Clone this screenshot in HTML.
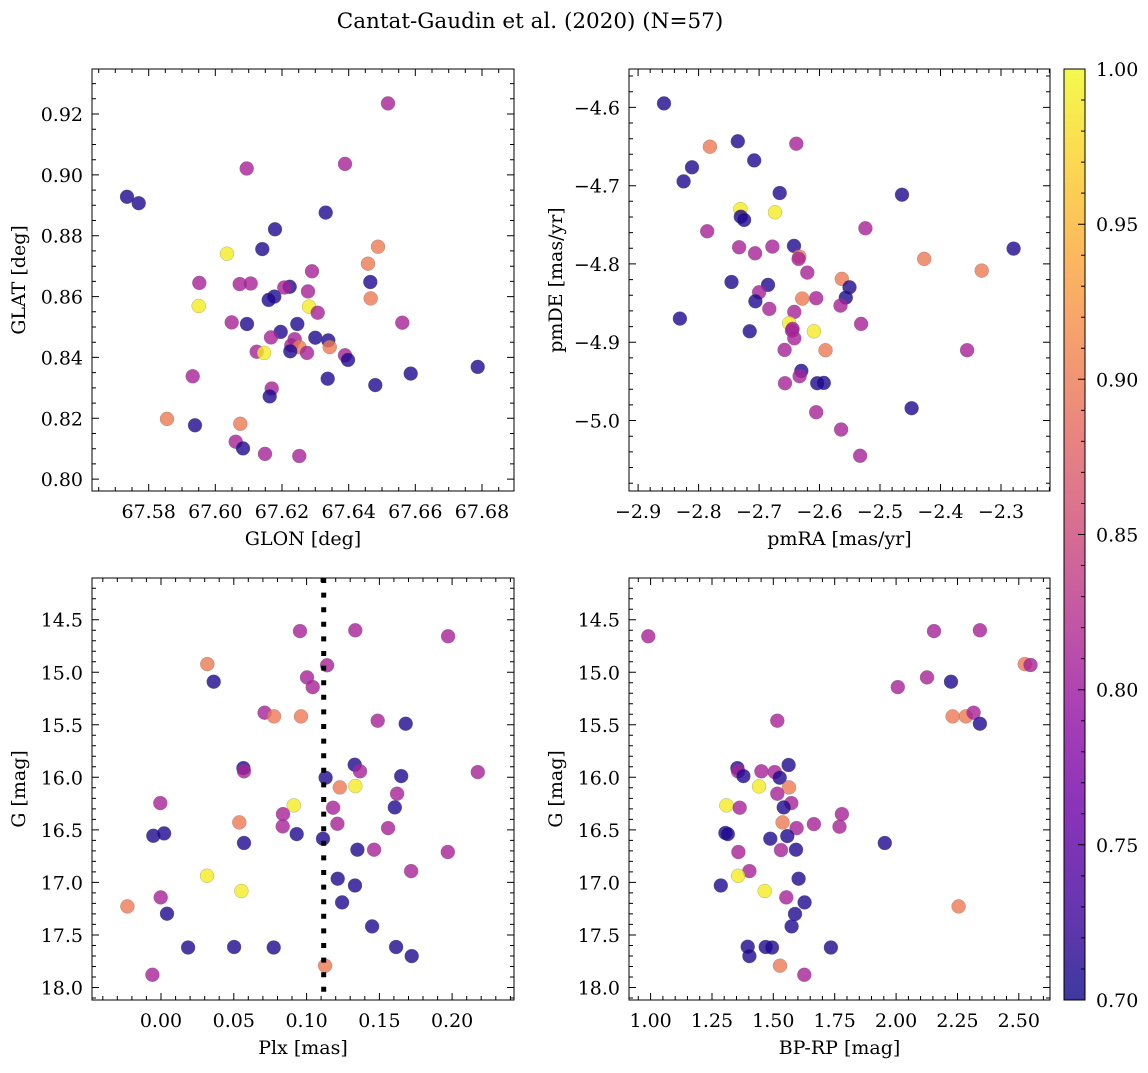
<!DOCTYPE html>
<html><head><meta charset="utf-8"><style>
html,body{margin:0;padding:0;background:#fff;}
svg text{font-family:"DejaVu Serif","Liberation Serif",serif;fill:#000;}
</style></head><body>
<svg id="fig" xmlns="http://www.w3.org/2000/svg" width="1148" height="1068" viewBox="0 0 1148 1068">
<rect width="1148" height="1068" fill="#fff"/>
<text x="530" y="28" font-size="21.5" text-anchor="middle">Cantat-Gaudin et al. (2020) (N=57)</text>
</svg>
<script>
// ---- data ----
const tlGlon=[67.6518,67.6389,67.6094,67.5735,67.577,67.6331,67.6179,67.6488,67.6141,67.6035,67.6458,67.629,67.5952,67.6073,67.6106,67.6223,67.6207,67.6278,67.6465,67.6177,67.616,67.6466,67.595,67.6281,67.6307,67.6049,67.6095,67.6561,67.6246,67.6196,67.6167,67.63,67.6339,67.6238,67.6228,67.6252,67.6343,67.6124,67.6146,67.6225,67.6275,67.6389,67.6398,67.6787,67.6586,67.5932,67.6337,67.648,67.6169,67.6163,67.5855,67.5939,67.6075,67.6061,67.6083,67.6149,67.6252];
const tlGlat=[0.9235,0.9036,0.9021,0.8928,0.8907,0.8876,0.8821,0.8764,0.8756,0.8741,0.8708,0.8683,0.8645,0.8641,0.8643,0.8632,0.8630,0.8617,0.8648,0.8600,0.8589,0.8594,0.8569,0.8567,0.8547,0.8515,0.8510,0.8514,0.8510,0.8484,0.8466,0.8465,0.8456,0.8460,0.8440,0.8434,0.8434,0.8419,0.8415,0.8420,0.8415,0.8407,0.8392,0.8369,0.8347,0.8338,0.8330,0.8309,0.8298,0.8272,0.8198,0.8177,0.8182,0.8123,0.8101,0.8083,0.8076];
const tlProb=[0.81,0.81,0.81,0.71,0.71,0.71,0.71,0.9,0.71,0.99,0.9,0.81,0.81,0.81,0.81,0.71,0.81,0.81,0.71,0.71,0.71,0.9,0.99,0.99,0.81,0.81,0.71,0.81,0.71,0.71,0.81,0.71,0.71,0.81,0.81,0.9,0.9,0.81,0.99,0.71,0.81,0.81,0.71,0.71,0.71,0.81,0.71,0.71,0.81,0.71,0.9,0.71,0.9,0.81,0.71,0.81,0.81];

const trPmra=[-2.8571,-2.7813,-2.7352,-2.6385,-2.708,-2.8109,-2.8247,-2.6659,-2.4637,-2.7308,-2.6736,-2.7302,-2.7247,-2.7857,-2.5242,-2.733,-2.678,-2.7066,-2.6423,-2.6335,-2.6346,-2.2791,-2.4269,-2.6203,-2.3319,-2.5632,-2.7456,-2.6852,-2.5505,-2.7,-2.706,-2.6286,-2.6055,-2.5566,-2.5654,-2.683,-2.6417,-2.8308,-2.65,-2.6456,-2.6093,-2.7154,-2.5313,-2.6417,-2.5901,-2.356,-2.6577,-2.6302,-2.633,-2.6571,-2.6038,-2.5929,-2.4478,-2.6055,-2.5643,-2.533,-2.6445];
const trPmde=[-4.5949,-4.6502,-4.6434,-4.6464,-4.6677,-4.6766,-4.6945,-4.7094,-4.7115,-4.7298,-4.734,-4.7396,-4.7438,-4.7583,-4.7545,-4.7787,-4.7779,-4.7864,-4.7770,-4.7906,-4.7936,-4.7804,-4.7936,-4.8111,-4.8085,-4.8191,-4.823,-4.8268,-4.8298,-4.8362,-4.8477,-4.8443,-4.8438,-4.843,-4.8532,-4.8574,-4.8613,-4.8698,-4.8757,-4.8851,-4.886,-4.886,-4.8766,-4.8949,-4.9102,-4.9102,-4.9098,-4.9366,-4.9434,-4.9523,-4.9523,-4.9519,-4.9843,-4.9894,-5.0115,-5.0451,-4.883];
const trProb=[0.71,0.9,0.71,0.81,0.71,0.71,0.71,0.71,0.71,0.99,0.99,0.71,0.71,0.81,0.81,0.81,0.81,0.81,0.71,0.9,0.81,0.71,0.9,0.81,0.9,0.9,0.71,0.71,0.71,0.81,0.71,0.9,0.81,0.71,0.81,0.81,0.81,0.71,0.99,0.81,0.99,0.71,0.81,0.81,0.9,0.81,0.81,0.71,0.81,0.81,0.71,0.71,0.71,0.81,0.81,0.81,0.81];

const blPlx=[0.0955,0.1335,0.1972,0.0318,0.1141,0.0362,0.1003,0.1042,0.0712,0.0776,0.0962,0.1489,0.1681,0.0566,0.0570,0.1331,0.1367,0.2176,0.1131,0.1650,0.1228,0.1335,-0.0005,0.1622,0.0912,0.1182,0.1606,0.0838,0.0538,0.1212,0.0836,0.1560,-0.0053,0.0021,0.0932,0.1113,0.0570,0.1349,0.1464,0.1970,0.1718,0.0316,0.1214,0.1333,0.0552,-0.0002,-0.0231,0.0041,0.1244,0.1450,0.0186,0.0502,0.0774,0.1615,0.1722,0.1127,-0.0059];
const blG=[14.608,14.601,14.658,14.922,14.934,15.090,15.049,15.141,15.385,15.420,15.420,15.461,15.490,15.912,15.943,15.880,15.943,15.950,16.003,15.988,16.096,16.083,16.245,16.156,16.267,16.289,16.286,16.350,16.429,16.442,16.467,16.483,16.556,16.534,16.540,16.584,16.625,16.689,16.689,16.711,16.892,16.937,16.965,17.029,17.082,17.143,17.228,17.298,17.190,17.419,17.619,17.615,17.619,17.615,17.701,17.793,17.879];
const blProb=[0.81,0.81,0.81,0.9,0.81,0.71,0.81,0.81,0.81,0.9,0.9,0.81,0.71,0.71,0.81,0.71,0.81,0.81,0.71,0.71,0.9,0.99,0.81,0.81,0.99,0.81,0.71,0.81,0.9,0.81,0.81,0.81,0.71,0.71,0.71,0.71,0.71,0.71,0.81,0.81,0.81,0.99,0.71,0.71,0.99,0.81,0.9,0.71,0.71,0.71,0.71,0.71,0.71,0.71,0.71,0.9,0.81];
const plxLine=0.1118;

const brBprp=[0.9905,2.1545,2.3415,2.5244,2.5474,2.1260,2.2236,2.0068,1.5163,2.2304,2.2846,2.3157,2.3415,1.3537,1.3564,1.5623,1.4512,1.5054,1.5257,1.3780,1.4417,1.5637,1.5163,1.5732,1.3089,1.3631,1.5420,1.7791,1.5379,1.6653,1.7696,1.5949,1.3049,1.3144,1.4878,1.5569,1.9539,1.3577,1.5312,1.5921,1.4024,1.3564,1.6030,1.2859,1.4648,1.5528,2.2547,1.6274,1.5881,1.5745,1.3957,1.4688,1.4946,1.7344,1.4024,1.5271,1.6260];
const brG=[14.658,14.608,14.601,14.922,14.931,15.049,15.090,15.141,15.461,15.420,15.420,15.385,15.490,15.912,15.943,15.883,15.943,15.950,16.003,15.988,16.086,16.096,16.156,16.245,16.267,16.289,16.286,16.350,16.429,16.445,16.470,16.483,16.530,16.540,16.584,16.559,16.625,16.711,16.692,16.689,16.892,16.937,16.965,17.029,17.082,17.143,17.228,17.190,17.301,17.419,17.612,17.615,17.619,17.619,17.701,17.793,17.879];
const brProb=[0.81,0.81,0.81,0.9,0.81,0.81,0.71,0.81,0.81,0.9,0.9,0.81,0.71,0.71,0.81,0.71,0.81,0.81,0.71,0.71,0.99,0.9,0.81,0.81,0.99,0.81,0.71,0.81,0.9,0.81,0.81,0.81,0.71,0.71,0.71,0.71,0.71,0.81,0.81,0.71,0.81,0.99,0.71,0.71,0.99,0.81,0.9,0.71,0.71,0.71,0.71,0.71,0.71,0.71,0.71,0.9,0.81];

const tlXTicks=["67.58","67.60","67.62","67.64","67.66","67.68"];
const tlYTicks=["0.80","0.82","0.84","0.86","0.88","0.90","0.92"];
const trXTicks=["−2.9","−2.8","−2.7","−2.6","−2.5","−2.4","−2.3"];
const trYTicks=["−5.0","−4.9","−4.8","−4.7","−4.6"];
const blXTicks=["0.00","0.05","0.10","0.15","0.20"];
const gTicks=["14.5","15.0","15.5","16.0","16.5","17.0","17.5","18.0"];
const brXTicks=["1.00","1.25","1.50","1.75","2.00","2.25","2.50"];
const cbTicks=["0.70","0.75","0.80","0.85","0.90","0.95","1.00"];

// ---- rendering ----
const NS="http://www.w3.org/2000/svg";
const svg=document.getElementById('fig');
const FS=19;
function mk(tag,attrs,parent){const e=document.createElementNS(NS,tag);for(const k in attrs)e.setAttribute(k,attrs[k]);(parent||svg).appendChild(e);return e;}
const stops=[[0,[13,8,135]],[0.1,[65,4,157]],[0.2,[106,0,168]],[0.3,[143,13,164]],[0.4,[177,42,144]],[0.5,[204,71,120]],[0.6,[225,100,98]],[0.7,[242,132,75]],[0.8,[252,166,54]],[0.9,[252,206,37]],[1,[240,249,33]]];
function plasma(t){t=Math.max(0,Math.min(1,t));for(let i=1;i<stops.length;i++){if(t<=stops[i][0]){const a=stops[i-1],b=stops[i],f=(t-a[0])/(b[0]-a[0]);return 'rgb('+a[1].map((v,j)=>Math.round(v+(b[1][j]-v)*f)).join(',')+')';}}return 'rgb(240,249,33)';}
const cmin=0.7,cmax=1.0;

function panel(o){
  const g=mk('g',{});
  
  
  const sx=v=>o.x0+(v-o.xd[0])/(o.xd[1]-o.xd[0])*(o.x1-o.x0);
  const sy=v=>o.y1-(v-o.yd[0])/(o.yd[1]-o.yd[0])*(o.y1-o.y0);
  const syInv=v=>o.y0+(v-o.yd[0])/(o.yd[1]-o.yd[0])*(o.y1-o.y0);
  const Y=o.invert?syInv:sy;
  const pg=mk('g',{},g);
  
  
  for(let i=0;i<o.xs.length;i++){
    const c=mk('circle',{cx:sx(o.xs[i]).toFixed(1),cy:Y(o.ys[i]).toFixed(1),r:7,fill:plasma((o.cs[i]-cmin)/(cmax-cmin)),'fill-opacity':0.8,stroke:'#666','stroke-width':0.3,'stroke-opacity':0.8},pg);
    
    
  }
  if(o.extra)o.extra(g,sx,Y);
  const fr=mk('rect',{x:o.x0,y:o.y0,width:o.x1-o.x0,height:o.y1-o.y0,fill:'none',stroke:'#000','stroke-width':1},g);
  
  
  let d='';
  const xmaj=o.xt.map(s=>Number(s.replace('−','-')));
  for(let v=Math.ceil(o.xd[0]/o.xmin)*o.xmin;v<=o.xd[1];v+=o.xmin){
    const px=sx(v);const isMaj=xmaj.some(m=>Math.abs(m-v)<o.xmin/10);const L=isMaj?7:4;
    d+=`M${px.toFixed(1)},${o.y1}v${-L}M${px.toFixed(1)},${o.y0}v${L}`;
  }
  const ymaj=o.yt.map(s=>Number(s.replace('−','-')));
  for(let v=Math.ceil(o.yd[0]/o.ymin)*o.ymin;v<=o.yd[1];v+=o.ymin){
    const py=Y(v);const isMaj=ymaj.some(m=>Math.abs(m-v)<o.ymin/10);const L=isMaj?7:4;
    d+=`M${o.x0},${py.toFixed(1)}h${L}M${o.x1},${py.toFixed(1)}h${-L}`;
  }
  const tk=mk('path',{d:d,stroke:'#000','stroke-width':1,fill:'none'},g);
  
  
  o.xt.forEach(s=>{const v=Number(s.replace('−','-'));
    const t=mk('text',{x:sx(v).toFixed(1),y:o.y1+27,'font-size':FS,'text-anchor':'middle'},g);t.textContent=s;
    
    });
  o.yt.forEach(s=>{const v=Number(s.replace('−','-'));
    const t=mk('text',{x:o.x0-9,y:(Y(v)+7).toFixed(1),'font-size':FS,'text-anchor':'end'},g);t.textContent=s;
    
    });
  const xl=mk('text',{x:(o.x0+o.x1)/2,y:o.y1+54,'font-size':FS,'text-anchor':'middle'},g);xl.textContent=o.xlabel;
  
  
  const yx=o.x0-67,yy=(o.y0+o.y1)/2;
  const yl=mk('text',{x:yx,y:yy,'font-size':FS,'text-anchor':'middle',transform:`rotate(-90 ${yx} ${yy})`},g);yl.textContent=o.ylabel;
  
  
}

panel({name:'glon-glat-panel',x0:92,x1:514,y0:69,y1:491,xd:[67.563,67.6896],yd:[0.7961,0.9348],xs:tlGlon,ys:tlGlat,cs:tlProb,xt:tlXTicks,yt:tlYTicks,xmin:0.005,ymin:0.005,xlabel:'GLON [deg]',ylabel:'GLAT [deg]'});
panel({name:'proper-motion-panel',x0:629,x1:1050,y0:69,y1:491,xd:[-2.915,-2.219],yd:[-5.090,-4.551],xs:trPmra,ys:trPmde,cs:trProb,xt:trXTicks,yt:trYTicks,xmin:0.02,ymin:0.02,xlabel:'pmRA [mas/yr]',ylabel:'pmDE [mas/yr]'});
panel({name:'parallax-mag-panel',x0:92,x1:514,y0:578,y1:1000,xd:[-0.0474,0.2425],yd:[14.103,18.119],invert:true,xs:blPlx,ys:blG,cs:blProb,xt:blXTicks,yt:gTicks,xmin:0.01,ymin:0.1,xlabel:'Plx [mas]',ylabel:'G [mag]',
  extra:(g,sx,Y)=>{const l=mk('line',{x1:sx(plxLine).toFixed(1),x2:sx(plxLine).toFixed(1),y1:578,y2:1000,stroke:'#000','stroke-width':5,'stroke-dasharray':'5 9.6'},g);
    
    }});
panel({name:'color-mag-panel',x0:629,x1:1050,y0:578,y1:1000,xd:[0.912,2.627],yd:[14.103,18.119],invert:true,xs:brBprp,ys:brG,cs:brProb,xt:brXTicks,yt:gTicks,xmin:0.05,ymin:0.1,xlabel:'BP-RP [mag]',ylabel:'G [mag]'});

const cb=mk('g',{});


const defs=mk('defs',{},cb);
const lg=mk('linearGradient',{id:'pl',x1:0,y1:1,x2:0,y2:0},defs);
for(let i=0;i<=20;i++){mk('stop',{offset:i/20,'stop-color':plasma(i/20)},lg);}
const cx0=1064,cx1=1085,cy0=69,cy1=1000;
mk('rect',{x:cx0,y:cy0,width:cx1-cx0,height:cy1-cy0,fill:'url(#pl)','fill-opacity':0.8},cb);
mk('rect',{x:cx0,y:cy0,width:cx1-cx0,height:cy1-cy0,fill:'none',stroke:'#000','stroke-width':1},cb);
const cyS=v=>cy1-(v-cmin)/(cmax-cmin)*(cy1-cy0);
let cd='';
for(let k=0;k<=30;k++){const v=cmin+k*0.01;const L=(k%5===0)?7:4;cd+=`M${cx1},${cyS(v).toFixed(1)}h${-L}`;}
mk('path',{d:cd,stroke:'#000','stroke-width':1},cb);
cbTicks.forEach(s=>{const t=mk('text',{x:1096,y:(cyS(Number(s))+7).toFixed(1),'font-size':FS},cb);t.textContent=s;
  
  });
</script>
</body></html>
